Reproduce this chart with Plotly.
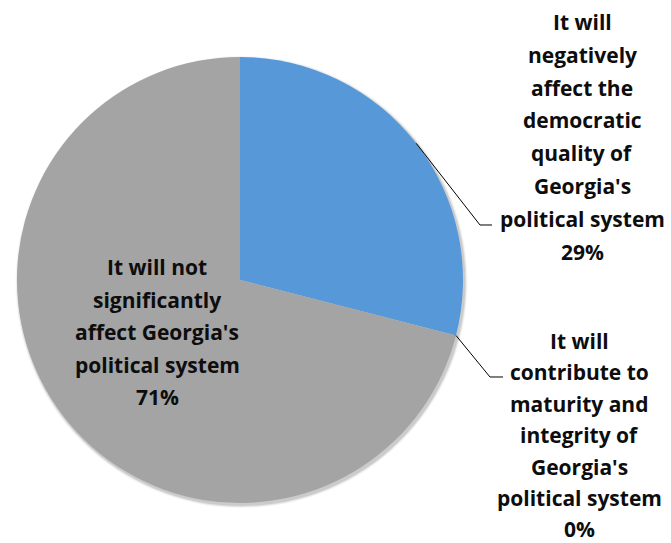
import math
import plotly.graph_objects as go

# Survey answers, in clockwise order starting from 12 o'clock
labels = [
    "It will negatively affect the democratic quality of Georgia's political system",
    "It will contribute to maturity and integrity of Georgia's political system",
    "It will not significantly affect Georgia's political system",
]
values = [29, 0, 71]
colors = ["#5698d8", "#4a8fd4", "#a4a4a4"]

# Label text, one entry per line
label_lines = [
    ["It will", "negatively", "affect the", "democratic", "quality of",
     "Georgia's", "political system", "29%"],
    ["It will", "contribute to", "maturity and", "integrity of",
     "Georgia's", "political system", "0%"],
    ["It will not", "significantly", "affect Georgia's", "political system", "71%"],
]

W, H = 671, 543
CX, CY, R = 240, 280, 223          # pie centre and radius in pixels
FONT = dict(family="'Open Sans', Lato, sans-serif", size=21, color="#0d0d0d",
            weight=800)


def px_x(x):
    return x / W


def px_y(y):
    return 1 - y / H


fig = go.Figure()

fig.add_trace(go.Pie(
    labels=labels,
    values=values,
    sort=False,
    direction="clockwise",
    rotation=0,
    marker=dict(colors=colors, line=dict(width=0)),
    textinfo="none",
    hoverinfo="label+percent",
    showlegend=False,
    domain=dict(x=[(CX - R) / W, (CX + R) / W],
                y=[(H - CY - R) / H, (H - CY + R) / H]),
))

# Soft edge shadow behind the pie
for i, op in enumerate([0.10, 0.07, 0.04]):
    d = i + 1
    fig.add_shape(type="circle", layer="below", xref="paper", yref="paper",
                  line=dict(width=0), fillcolor=f"rgba(0,0,0,{op})",
                  x0=px_x(CX - R - d + 1.5), x1=px_x(CX + R + d + 1.5),
                  y0=px_y(CY - R - d + 2), y1=px_y(CY + R + d + 2))


def edge_point(frac):
    """Point on the pie rim at a cumulative fraction measured clockwise from 12 o'clock."""
    a = 2 * math.pi * frac
    return CX + R * math.sin(a), CY - R * math.cos(a)


total = sum(values)
cum = 0
mids = []
for v in values:
    mids.append((cum + v / 2) / total)
    cum += v


def add_block(lines, cx, top, step):
    for k, t in enumerate(lines):
        fig.add_annotation(x=px_x(cx), y=px_y(top + k * step),
                           xref="paper", yref="paper", text=f"<b>{t}</b>",
                           showarrow=False, xanchor="center", yanchor="middle",
                           borderpad=0, font=FONT)


def leader(pts):
    path = "M " + " L ".join(f"{px_x(x):.5f},{px_y(y):.5f}" for x, y in pts)
    fig.add_shape(type="path", xref="paper", yref="paper",
                  line=dict(color="#000000", width=1), path=path)


# Label for the 29% slice with its leader line
add_block(label_lines[0], 582, 22, 32.8)
leader([edge_point(mids[0]), (480, 225), (492, 225)])

# Label for the 0% slice with its leader line
add_block(label_lines[1], 579, 341, 31.4)
leader([edge_point(mids[1]), (490, 377), (503, 377)])

# Label inside the 71% slice
add_block(label_lines[2], 157, 267, 32.5)

fig.update_layout(
    width=W, height=H,
    margin=dict(l=0, r=0, t=0, b=0),
    paper_bgcolor="white", plot_bgcolor="white",
)

fig.write_html("out.html")
